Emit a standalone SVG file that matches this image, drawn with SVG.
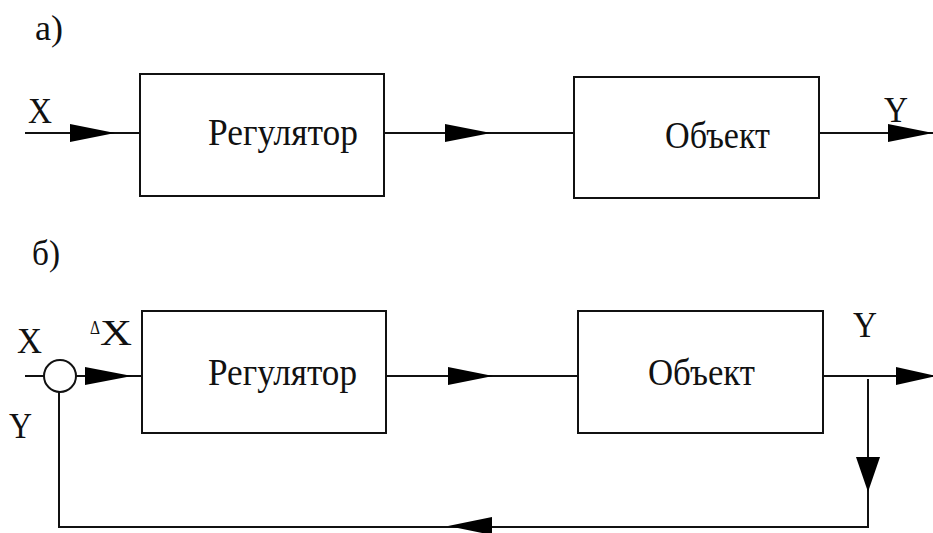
<svg xmlns="http://www.w3.org/2000/svg" width="933" height="533" viewBox="0 0 933 533">
<style>
.box{fill:#fff;stroke:#111;stroke-width:2}
.ln{fill:none;stroke:#111;stroke-width:2}
.ah{fill:#000;stroke:none}
</style>
<rect width="933" height="533" fill="#fff"/>
<text x="35" y="40" font-family="Liberation Serif" fill="#111" font-size="36" textLength="28" lengthAdjust="spacingAndGlyphs">а)</text>
<text x="32" y="265" font-family="Liberation Serif" fill="#111" font-size="36" textLength="28" lengthAdjust="spacingAndGlyphs">б)</text>
<g id="connectors">
<path class="ln" d="M25,133 H140"/>
<path class="ln" d="M384,133 H574"/>
<path class="ln" d="M819,133 H933"/>
<path class="ln" d="M25,376 H44"/>
<path class="ln" d="M76,376 H142"/>
<path class="ln" d="M386,376 H578"/>
<path class="ln" d="M823,376 H933"/>
<path class="ln" d="M868,379 V527 H59 V392"/>
<polygon class="ah" points="70,124 115,133 70,142"/>
<polygon class="ah" points="445,124 491,133 445,142"/>
<polygon class="ah" points="888,124 933,133 888,142"/>
<polygon class="ah" points="85,367 132,376 85,385"/>
<polygon class="ah" points="448,367 493,376 448,385"/>
<polygon class="ah" points="896,367 936,376 896,385"/>
<polygon class="ah" points="856,457 868,492 880,457"/>
<polygon class="ah" points="492,517 448,526 492,535"/>
</g>
<g id="reg1">
<rect class="box" x="140" y="74" width="244" height="122"/>
<text x="208" y="145" font-family="Liberation Serif" fill="#111" font-size="38" textLength="150" lengthAdjust="spacingAndGlyphs">Регулятор</text>
</g>
<g id="obj1">
<rect class="box" x="574" y="77" width="245" height="121"/>
<text x="665" y="148" font-family="Liberation Serif" fill="#111" font-size="38" textLength="105" lengthAdjust="spacingAndGlyphs">Объект</text>
</g>
<g id="sum">
<circle class="box" cx="60" cy="376" r="16"/>
</g>
<g id="reg2">
<rect class="box" x="142" y="311" width="244" height="122"/>
<text x="208" y="385" font-family="Liberation Serif" fill="#111" font-size="38" textLength="149" lengthAdjust="spacingAndGlyphs">Регулятор</text>
</g>
<g id="obj2">
<rect class="box" x="578" y="311" width="245" height="122"/>
<text x="648" y="385" font-family="Liberation Serif" fill="#111" font-size="38" textLength="107" lengthAdjust="spacingAndGlyphs">Объект</text>
</g>
<g id="labels">
<text x="28" y="123" font-family="Liberation Serif" fill="#111" font-size="36" textLength="24" lengthAdjust="spacingAndGlyphs">X</text>
<text x="884" y="122" font-family="Liberation Serif" fill="#111" font-size="36" textLength="24" lengthAdjust="spacingAndGlyphs">Y</text>
<text x="17" y="353" font-family="Liberation Serif" fill="#111" font-size="36" textLength="25" lengthAdjust="spacingAndGlyphs">X</text>
<text x="90" y="334" font-family="Liberation Serif" fill="#111" font-size="18" textLength="10" lengthAdjust="spacingAndGlyphs">Δ</text>
<text x="100" y="345" font-family="Liberation Serif" fill="#111" font-size="36" textLength="32" lengthAdjust="spacingAndGlyphs">X</text>
<text x="9" y="438" font-family="Liberation Serif" fill="#111" font-size="36" textLength="23" lengthAdjust="spacingAndGlyphs">Y</text>
<text x="853" y="337" font-family="Liberation Serif" fill="#111" font-size="36" textLength="24" lengthAdjust="spacingAndGlyphs">Y</text>
</g>
</svg>
